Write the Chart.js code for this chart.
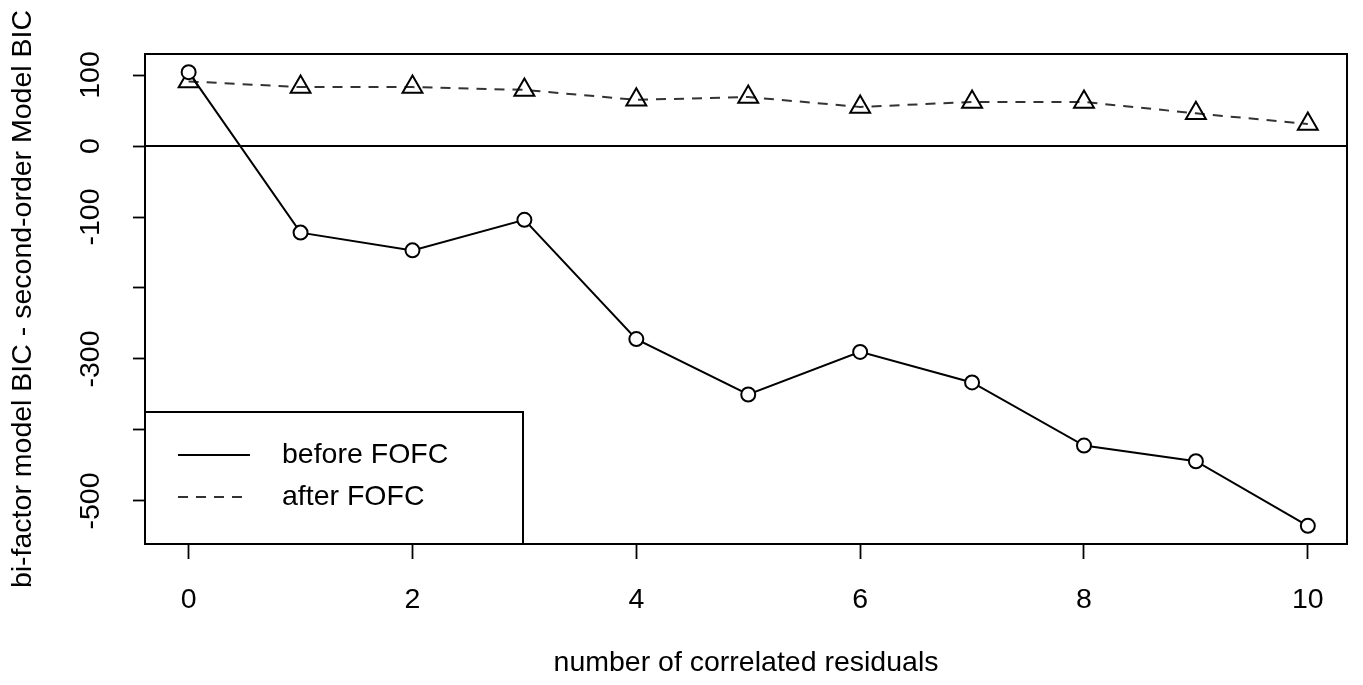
<!DOCTYPE html>
<html>
<head>
<meta charset="utf-8">
<script src="https://cdn.jsdelivr.net/npm/chart.js@4"></script>
<style>
  body { margin: 0; background: #fff; }
  canvas { display: block; }
</style>
</head>
<body>
<canvas id="bicChart" width="1363" height="685"></canvas>
<script>
// number of correlated residuals
var residuals = [0, 1, 2, 3, 4, 5, 6, 7, 8, 9, 10];
// BIC difference before / after FOFC
var beforeFOFC = [104, -122, -147, -104, -272, -350, -290, -333, -422, -444, -535];
var afterFOFC = [91, 83, 83, 79, 65, 69, 55, 62, 62, 46, 31];
var yTicks = [-500, -400, -300, -200, -100, 0, 100];
var yTickLabels = ['100', '0', '-100', '-300', '-500'];

var FONT = 'Liberation Sans, Arial, sans-serif';
var FONT_SIZE = 28.5;

function toPoints(values) {
    return residuals.map(function(x, i) {
        return { x: x, y: values[i] };
    });
}

// 画边框、零线、y轴标签和图例
var rPlotStyle = {
    id: 'rPlotStyle',
    beforeDatasetsDraw: function(chart) {
        var ctx = chart.ctx;
        var area = chart.chartArea;
        var y0 = chart.scales.y.getPixelForValue(0);
        ctx.save();
        ctx.strokeStyle = '#000';
        ctx.lineWidth = 1.8;
        ctx.beginPath();
        ctx.moveTo(area.left, y0);
        ctx.lineTo(area.right, y0);
        ctx.stroke();
        ctx.restore();
    },
    afterDraw: function(chart) {
        var ctx = chart.ctx;
        var area = chart.chartArea;
        var yScale = chart.scales.y;
        ctx.save();

        // plot box
        ctx.strokeStyle = '#000';
        ctx.lineWidth = 2;
        ctx.strokeRect(area.left, area.top, area.right - area.left, area.bottom - area.top);

        // rotated y tick labels
        ctx.fillStyle = '#000';
        ctx.font = FONT_SIZE + 'px ' + FONT;
        ctx.textAlign = 'center';
        ctx.textBaseline = 'middle';
        yScale.ticks.forEach(function(t) {
            var label = String(t.value);
            if (yTickLabels.indexOf(label) < 0) return;
            var py = yScale.getPixelForValue(t.value);
            ctx.save();
            ctx.translate(91, py);
            ctx.rotate(-Math.PI / 2);
            ctx.fillText(label, 0, 0);
            ctx.restore();
        });

        // y axis title
        ctx.save();
        ctx.translate(23, (area.top + area.bottom) / 2);
        ctx.rotate(-Math.PI / 2);
        ctx.fillText('bi-factor model BIC - second-order Model BIC', 0, 0);
        ctx.restore();

        // legend (bottomleft)
        var lw = 378, lh = 132;
        var lx = area.left, ly = area.bottom - lh;
        ctx.fillStyle = '#fff';
        ctx.fillRect(lx, ly, lw, lh);
        ctx.strokeStyle = '#000';
        ctx.lineWidth = 2;
        ctx.strokeRect(lx, ly, lw, lh);

        ctx.lineWidth = 2;
        ctx.beginPath();
        ctx.moveTo(lx + 33, ly + 43);
        ctx.lineTo(lx + 105, ly + 43);
        ctx.stroke();
        ctx.setLineDash([10, 8]);
        ctx.strokeStyle = '#333';
        ctx.beginPath();
        ctx.moveTo(lx + 33, ly + 85);
        ctx.lineTo(lx + 105, ly + 85);
        ctx.stroke();
        ctx.setLineDash([]);

        ctx.fillStyle = '#000';
        ctx.textAlign = 'left';
        ctx.fillText('before FOFC', lx + 137, ly + 43);
        ctx.fillText('after FOFC', lx + 137, ly + 85);

        ctx.restore();
    }
};

new Chart(document.getElementById('bicChart').getContext('2d'), {
    type: 'line',
    data: {
        datasets: [{
            label: 'before FOFC',
            data: toPoints(beforeFOFC),
            borderColor: '#000',
            borderWidth: 2,
            pointStyle: 'circle',
            pointRadius: 7,
            pointBorderWidth: 2,
            pointBackgroundColor: '#fff',
            pointBorderColor: '#000',
            tension: 0
        }, {
            label: 'after FOFC',
            data: toPoints(afterFOFC),
            borderColor: '#333',
            borderWidth: 2,
            borderDash: [10, 8],
            pointStyle: 'triangle',
            pointRadius: 11.5,
            pointBorderWidth: 2,
            pointBackgroundColor: 'rgba(255,255,255,0)',
            pointBorderColor: '#000',
            tension: 0
        }]
    },
    options: {
        responsive: false,
        animation: false,
        layout: { padding: { left: 0, right: 16, top: 54, bottom: 0 } },
        plugins: {
            legend: { display: false },
            tooltip: { enabled: false }
        },
        scales: {
            x: {
                type: 'linear',
                min: -0.39,
                max: 10.35,
                border: { display: false },
                grid: { drawOnChartArea: false, tickLength: 15, tickColor: '#000', tickWidth: 1.8 },
                ticks: {
                    stepSize: 2,
                    includeBounds: false,
                    color: '#000',
                    padding: 24,
                    maxRotation: 0,
                    font: { family: FONT, size: FONT_SIZE }
                },
                title: {
                    display: true,
                    text: 'number of correlated residuals',
                    color: '#000',
                    font: { family: FONT, size: FONT_SIZE },
                    padding: { top: 0, bottom: 5 }
                },
                afterFit: function(scale) { scale.height = 141; }
            },
            y: {
                type: 'linear',
                min: -560.6,
                max: 129.6,
                border: { display: false },
                grid: { drawOnChartArea: false, tickLength: 12, tickColor: '#000', tickWidth: 1.8 },
                ticks: { display: false },
                afterBuildTicks: function(scale) {
                    scale.ticks = yTicks.map(function(v) { return { value: v }; });
                },
                afterFit: function(scale) { scale.width = 145; }
            }
        }
    },
    plugins: [rPlotStyle]
});
</script>
</body>
</html>
